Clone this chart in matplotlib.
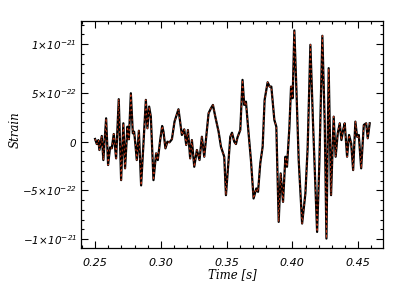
import matplotlib
matplotlib.use('Agg')
import matplotlib.pyplot as plt
import numpy as np
from matplotlib.ticker import MultipleLocator, FixedLocator, FixedFormatter

# waveform: time in s, strain in units of 1e-22
time = [0.2500, 0.2513, 0.2525, 0.2533, 0.2551, 0.2563, 0.2584, 0.2599, 0.2614, 0.2627,
        0.2642, 0.2660, 0.2680, 0.2698, 0.2715, 0.2728, 0.2746, 0.2757, 0.2772, 0.2787,
        0.2797, 0.2807, 0.2817, 0.2833, 0.2850, 0.2868, 0.2886, 0.2898, 0.2911, 0.2924,
        0.2944, 0.2964, 0.2977, 0.2995, 0.3010, 0.3020, 0.3035, 0.3050, 0.3066, 0.3084,
        0.3104, 0.3134, 0.3160, 0.3178, 0.3193, 0.3206, 0.3223, 0.3236, 0.3254, 0.3274,
        0.3294, 0.3312, 0.3330, 0.3363, 0.3381, 0.3396, 0.3414, 0.3439, 0.3457, 0.3472,
        0.3482, 0.3495, 0.3515, 0.3528, 0.3541, 0.3558, 0.3571, 0.3583, 0.3604, 0.3621,
        0.3634, 0.3647, 0.3667, 0.3685, 0.3705, 0.3726, 0.3739, 0.3756, 0.3774, 0.3789,
        0.3812, 0.3827, 0.3840, 0.3863, 0.3878, 0.3896, 0.3911, 0.3929, 0.3947, 0.3959,
        0.3977, 0.3990, 0.4002, 0.4015, 0.4030, 0.4048, 0.4074, 0.4099, 0.4116, 0.4137,
        0.4157, 0.4188, 0.4205, 0.4228, 0.4246, 0.4259, 0.4276, 0.4294, 0.4314, 0.4329,
        0.4345, 0.4360, 0.4373, 0.4386, 0.4398, 0.4416, 0.4431, 0.4447, 0.4462, 0.4479,
        0.4492, 0.4505, 0.4523, 0.4543, 0.4561, 0.4573, 0.4588]
strain = [0.28, -0.24, 0.17, -0.85, 0.59, -1.88, 2.40, -2.39, -0.58, -0.68,
          0.79, -1.71, 4.36, -3.94, 1.89, -2.73, 1.54, 0.25, 4.97, 0.86,
          1.03, -0.34, -1.88, 1.13, -4.48, -0.16, 4.29, 1.38, 3.60, 2.57,
          -3.94, -1.19, -1.88, 0.17, 1.61, 1.03, -0.68, 0.00, -0.06, 0.25,
          2.06, 3.33, 0.69, 1.27, -0.34, 1.20, -1.71, 0.17, -2.57, -0.85,
          -1.88, 0.51, -1.54, 2.92, 3.43, 3.77, 2.57, 1.03, -0.51, -1.13,
          -1.54, -5.48, -1.88, 0.51, 0.92, 0.00, -0.24, 0.45, 1.20, 6.34,
          3.77, 4.11, 0.86, -1.88, -5.82, -4.79, -5.14, -2.22, -0.51, 4.29,
          6.10, 5.65, 5.65, 2.23, 1.54, -8.22, -3.25, -6.17, -1.54, -2.57,
          1.38, 5.65, 4.46, 11.41, 5.65, -1.88, -8.39, -5.30, -0.68, 9.94,
          1.89, -9.25, -2.22, 10.86, 1.89, -9.93, 7.54, -5.48, 2.57, -1.54,
          0.86, 1.89, 0.17, 1.20, 1.89, -1.54, 0.69, -0.16, -2.91, 2.06,
          0.51, 0.69, -2.73, 1.72, 1.89, 0.35, 1.89]

x_ticks = [0.25, 0.30, 0.35, 0.40, 0.45]
y_ticks = [-1e-21, -5e-22, 0, 5e-22, 1e-21]
y_labels = [r'$-1\!\times\!10^{-21}$', r'$-5\!\times\!10^{-22}$', r'$0$',
            r'$5\!\times\!10^{-22}$', r'$1\!\times\!10^{-21}$']

plt.rcParams['mathtext.default'] = 'it'
plt.rcParams['font.style'] = 'italic'

t = np.array(time)
s = np.array(strain) * 1e-22

fig = plt.figure(figsize=(4.05, 3.01), dpi=100)
ax = fig.add_axes([0.2, 0.176, 0.746, 0.755])

ax.plot(t, s, color='black', lw=1.6)
ax.plot(t, s, color='#c83818', lw=0.7, ls=(0, (2, 3)))

ax.set_xlim(0.2393, 0.469)
ax.set_ylim(-1.09e-21, 1.24e-21)

ax.xaxis.set_major_locator(FixedLocator(x_ticks))
ax.xaxis.set_major_formatter(FixedFormatter(['%.2f' % v for v in x_ticks]))
ax.xaxis.set_minor_locator(MultipleLocator(0.01))
ax.yaxis.set_major_locator(FixedLocator(y_ticks))
ax.yaxis.set_major_formatter(FixedFormatter(y_labels))
ax.yaxis.set_minor_locator(MultipleLocator(1e-22))

ax.tick_params(which='both', direction='in', top=True, right=True, width=0.8)
ax.tick_params(which='major', length=5)
ax.tick_params(which='minor', length=2.5)
ax.tick_params(axis='x', labelsize=8, pad=7)
ax.tick_params(axis='y', labelsize=7.5, pad=3)
for sp in ax.spines.values():
    sp.set_linewidth(0.9)

ax.set_xlabel('Time [s]', family='DejaVu Serif', style='italic', fontsize=8.5)
ax.set_ylabel('Strain', family='DejaVu Serif', style='italic', fontsize=8.5)
ax.xaxis.set_label_coords(0.5, -0.09)
ax.yaxis.set_label_coords(-0.195, 0.52)

fig.savefig('out.png', dpi=100)
